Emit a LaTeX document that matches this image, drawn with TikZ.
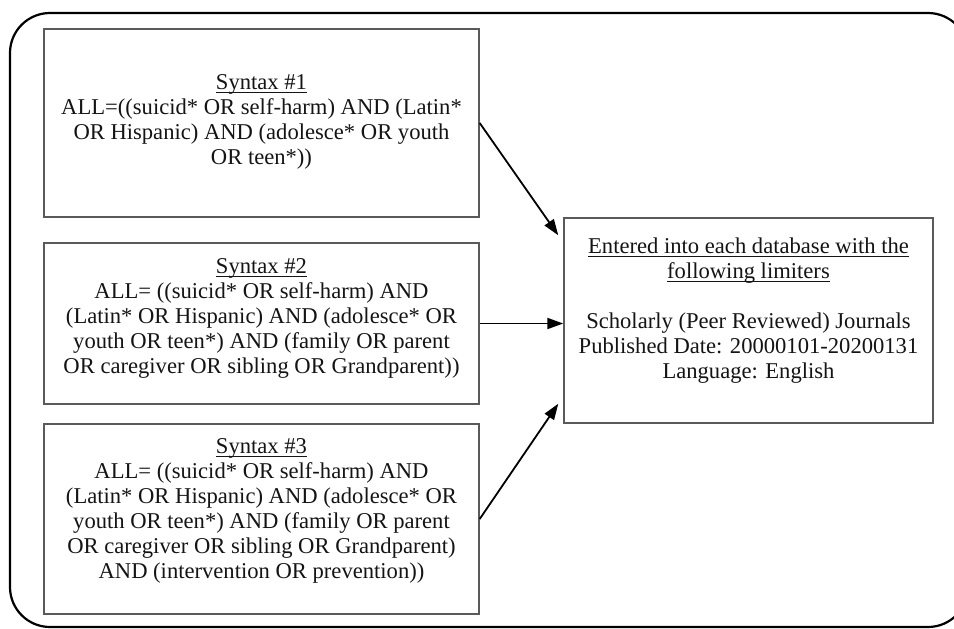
\documentclass[tikz,border=0pt]{standalone}
\usepackage{fontspec}
\setmainfont{Liberation Serif}
\usetikzlibrary{arrows.meta,calc}
\definecolor{boxgray}{RGB}{90,90,90}
\definecolor{txt}{RGB}{20,20,20}
\newcommand\ulx[1]{\setbox0\hbox{#1}\rlap{\rule[-3.2pt]{\wd0}{1.1pt}}#1}
\begin{document}
\begin{tikzpicture}[x=1pt,y=-1pt,
  box/.style={draw=boxgray, line width=1.4pt, inner sep=0pt},
  boxtext/.style={align=center, inner sep=0pt, text=txt, font=\fontsize{22.6}{25}\selectfont},
  conn/.style={line width=1.8pt, -{Triangle[length=16pt,width=11pt]}}]
\useasboundingbox (0,0) rectangle (954,629);
\clip (0,0) rectangle (954,629);
\draw[line width=2.2pt, rounded corners=40pt] (10,13) rectangle (968,627);
\node[box, minimum width=435pt, minimum height=188pt] (b1) at (261.5,123) {};
\node[box, minimum width=435pt, minimum height=161pt] (b2) at (261.5,323.5) {};
\node[box, minimum width=435pt, minimum height=190pt] (b3) at (261.5,519) {};
\node[box, minimum width=369pt, minimum height=205pt] (b4) at (748.5,320.5) {};
\node[boxtext] (t1text) at ($(b1.center)+(0,-1)$)
  {\ulx{Syntax \#1}\\ALL=((suicid* OR self-harm) AND (Latin*\\OR Hispanic) AND (adolesce* OR youth\\OR teen*))};
\node[boxtext] (t2text) at ($(b2.center)+(0,-5)$)
  {\ulx{Syntax \#2}\\ALL= ((suicid* OR self-harm) AND\\(Latin* OR Hispanic) AND (adolesce* OR\\youth OR teen*) AND (family OR parent\\OR caregiver OR sibling OR Grandparent))};
\node[boxtext] (t3text) at ($(b3.center)+(0,-8)$)
  {\ulx{Syntax \#3}\\ALL= ((suicid* OR self-harm) AND\\(Latin* OR Hispanic) AND (adolesce* OR\\youth OR teen*) AND (family OR parent\\OR caregiver OR sibling OR Grandparent)\\AND (intervention OR prevention))};
\node[boxtext] (t4text) at ($(b4.center)+(0,-10)$)
  {\ulx{Entered into each database with the}\\\ulx{following limiters}\\[25pt]Scholarly (Peer Reviewed) Journals\\Published Date: 20000101-20200131\\Language: English};
\coordinate (t1) at ($(b4.north west)+(-5,18)$);
\coordinate (t3) at ($(b4.south west)+(-5,-20)$);
\draw[conn] (b1.east) -- (t1);
\draw[conn] (b2.east) -- (b2.east -| b4.west);
\draw[conn] (b3.east) -- (t3);
\end{tikzpicture}
\end{document}
